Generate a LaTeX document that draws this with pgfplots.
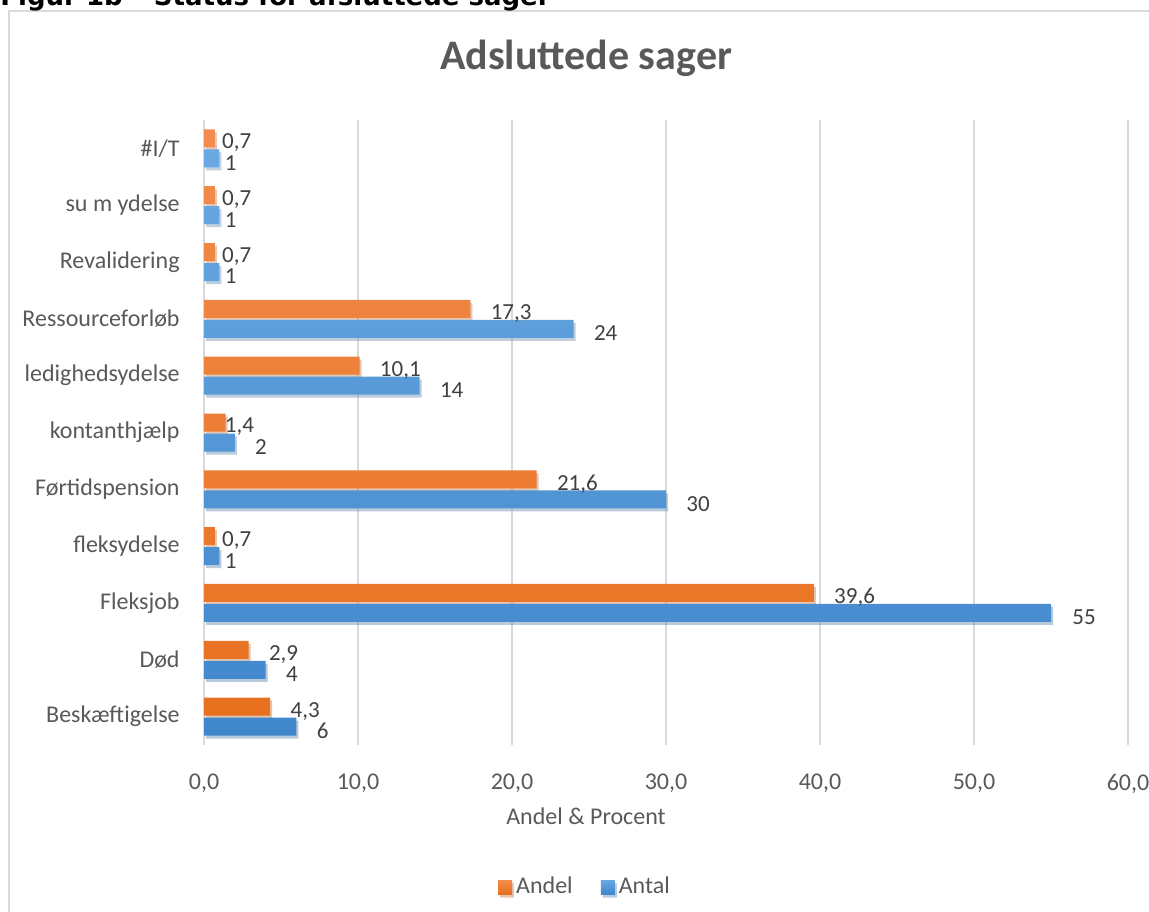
\documentclass[border=0pt]{standalone}
\usepackage{pgfplots}
\pgfplotsset{compat=1.18}
\usepackage{pgfplotstable}
\usepackage{fontspec}
\setmainfont{Carlito}
\newfontfamily\dejavu{DejaVu Sans}
\usetikzlibrary{shadows}

\definecolor{gridgray}{HTML}{D9D9D9}
\definecolor{txtgray}{HTML}{595959}
\definecolor{lblgray}{HTML}{404040}
\definecolor{orTop}{HTML}{F28C4E}
\definecolor{orBot}{HTML}{E8701E}
\definecolor{blTop}{HTML}{6AA8E2}
\definecolor{blBot}{HTML}{3F86CB}

% y = category index (bottom to top), off = label offset in pt
\pgfplotstableread{
y x lab off
0 4.3 4,3 10
1 2.9 2,9 10
2 39.6 39,6 10
3 0.7 0,7 3.5
4 21.6 21,6 10
5 1.4 1,4 -0.5
6 10.1 10,1 10
7 17.3 17,3 10
8 0.7 0,7 3.5
9 0.7 0,7 3.5
10 0.7 0,7 3.5
}\andel

\pgfplotstableread{
y x lab off
0 6 6 10
1 4 4 10
2 55 55 10.5
3 1 1 2.5
4 30 30 10
5 2 2 10
6 14 14 10
7 24 24 10
8 1 1 2.5
9 1 1 2.5
10 1 1 2.5
}\antal

\begin{document}
\begin{tikzpicture}
\useasboundingbox (0,0) rectangle (574.5pt,455.5pt);

% chart frame and cut caption
\draw[gridgray, line width=1pt] (4.5pt,-10pt) -- (4.5pt,450pt) -- (600pt,450pt);
\node[anchor=base west, inner sep=0pt, font=\dejavu\bfseries\fontsize{13}{15}\selectfont] at (0pt,452.5pt) {Figur 1b – Status for afsluttede sager};

\node[font=\bfseries\fontsize{21}{25}\selectfont, text=txtgray] at (293pt,426.5pt) {Adsluttede sager};
\node[font=\fontsize{12}{14}\selectfont, text=txtgray] at (293pt,47.5pt) {Andel \& Procent};

\begin{axis}[
  at={(102pt,83pt)}, anchor=south west,
  width=462pt, height=312.5pt, scale only axis,
  xbar, bar width=9pt,
  xmin=0, xmax=60, ymin=-0.5, ymax=10.5,
  xtick={0,10,...,60},
  ytick={0,...,10},
  yticklabels={Beskæftigelse,Død,Fleksjob,fleksydelse,Førtidspension,kontanthjælp,ledighedsydelse,Ressourceforløb,Revalidering,su m ydelse,\#I/T},
  axis line style={draw=none},
  major tick length=0pt,
  xmajorgrids, major grid style={gridgray, line width=0.75pt},
  ymajorgrids=false,
  /pgf/number format/.cd, fixed, fixed zerofill, precision=1, use comma, assume math mode=true,
  /pgfplots/.cd,
  xticklabel style={font=\fontsize{12}{14}\selectfont, text=txtgray, inner sep=0pt, yshift=-14.5pt},
  yticklabel style={font=\fontsize{12}{14}\selectfont, text=txtgray, inner sep=0pt, xshift=-12pt},
  nodes near coords,
  point meta=explicit symbolic,
  visualization depends on={\thisrow{off} \as \off},
  nodes near coords style={anchor=west, inner sep=0pt, xshift=\off pt, yshift=-2.25pt, font=\fontsize{11.5}{13}\selectfont, text=lblgray},
  legend columns=2,
  legend style={at={(0.4134,-0.2272)}, anchor=center, draw=none, fill=none,
    font=\fontsize{12}{14}\selectfont, text=txtgray,
    /tikz/every even column/.append style={column sep=12pt}},
  legend image code/.code={\fill[#1] (0pt,-3.5pt) rectangle (7pt,3.5pt);},
  clip=false,
]
\addplot[draw=none, top color=orTop, bottom color=orBot, bar shift=5pt,
  drop shadow={shadow xshift=1pt, shadow yshift=-1.5pt, opacity=0.25}]
  table[x=x, y=y, meta=lab] {\andel};
\addlegendentry{Andel}
\addplot[draw=none, top color=blTop, bottom color=blBot, bar shift=-5pt,
  drop shadow={shadow xshift=1pt, shadow yshift=-1.5pt, opacity=0.25}]
  table[x=x, y=y, meta=lab] {\antal};
\addlegendentry{Antal}
\end{axis}
\end{tikzpicture}
\end{document}
